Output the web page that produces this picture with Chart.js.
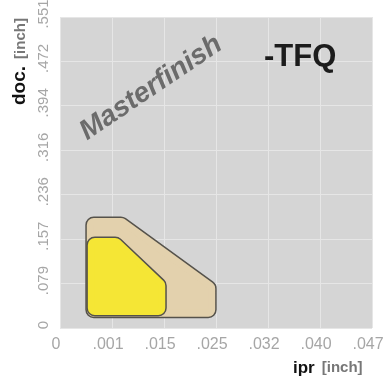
<!DOCTYPE html>
<html>
<head>
<meta charset="utf-8">
<script src="https://cdn.jsdelivr.net/npm/chart.js@4.4.0/dist/chart.umd.min.js"></script>
<style>
  html, body { margin: 0; padding: 0; background: #fff; }
  #wrap { width: 383px; height: 380px; }
</style>
</head>
<body>
<div id="wrap"><canvas id="chart" width="383" height="380"></canvas></div>
<script>
// tick labels as printed on the chart (one per grid step)
const xTickLabels = ['0', '.001', '.015', '.025', '.032', '.040', '.047'];
const yTickLabels = ['0', '.079', '.157', '.236', '.316', '.394', '.472', '.551'];

// outer (tan) range - corner points in grid steps, closed
const outerX = [0.65, 0.65, 1.17, 2.85, 2.85, 0.65];
const outerY = [0.41, 2.32, 2.32, 0.89, 0.41, 0.41];

// inner (yellow) range
const innerX = [0.67, 0.67, 1.06, 1.89, 1.89, 0.67];
const innerY = [0.45, 1.87, 1.87, 0.95, 0.45, 0.45];

const edgeColor = '#55524b';

function toPoints(xs, ys) {
  return xs.map((x, i) => ({ x: x, y: ys[i] }));
}

// thick round-joined stroke gives the rounded corners
function outline(xs, ys, color, width) {
  return {
    data: toPoints(xs, ys),
    borderColor: color,
    borderWidth: width,
    borderJoinStyle: 'round',
    borderCapStyle: 'round',
    pointRadius: 0,
    tension: 0,
    fill: false
  };
}

// filled body: open path (without closing point) filled down to its bottom
function body(xs, ys, color) {
  return {
    data: toPoints(xs.slice(0, -1), ys.slice(0, -1)),
    borderColor: color,
    backgroundColor: color,
    borderWidth: 0,
    pointRadius: 0,
    tension: 0,
    fill: { value: ys[0] }
  };
}

// plot background
const plotBg = {
  id: 'plotBg',
  beforeDraw(chart) {
    const { ctx, chartArea: a } = chart;
    ctx.save();
    ctx.fillStyle = '#d5d5d5';
    ctx.fillRect(a.left, a.top, a.right - a.left, a.bottom - a.top);
    ctx.restore();
  }
};

// tick labels, titles and notes
const texts = {
  id: 'texts',
  afterDraw(chart) {
    const ctx = chart.ctx;
    const xs = chart.scales.x, ys = chart.scales.y;
    ctx.save();
    ctx.fillStyle = '#a6a6a6';
    ctx.font = '16px "Liberation Sans", Arial, sans-serif';
    ctx.textAlign = 'center';
    ctx.textBaseline = 'alphabetic';
    xTickLabels.forEach((t, i) => {
      ctx.fillText(t, xs.getPixelForValue(i) - 4, 349);
    });
    ctx.font = '15px "Liberation Sans", Arial, sans-serif';
    yTickLabels.forEach((t, i) => {
      ctx.save();
      ctx.translate(48, ys.getPixelForValue(i) - 3);
      ctx.rotate(-Math.PI / 2);
      ctx.fillText(t, 0, 0);
      ctx.restore();
    });

    // y title
    ctx.save();
    ctx.translate(25, 105);
    ctx.rotate(-Math.PI / 2);
    ctx.textAlign = 'left';
    ctx.fillStyle = '#111';
    ctx.font = 'bold 19px "Liberation Sans", Arial, sans-serif';
    ctx.fillText('doc.', 0, 0);
    let w = ctx.measureText('doc.').width;
    ctx.fillStyle = '#777';
    ctx.font = 'bold 15px "Liberation Sans", Arial, sans-serif';
    ctx.fillText('[inch]', w + 7, 0);
    ctx.restore();

    // x title
    ctx.textAlign = 'left';
    ctx.fillStyle = '#111';
    ctx.font = 'bold 17px "Liberation Sans", Arial, sans-serif';
    ctx.fillText('ipr', 293, 373);
    w = ctx.measureText('ipr').width;
    ctx.fillStyle = '#777';
    ctx.font = 'bold 15px "Liberation Sans", Arial, sans-serif';
    ctx.fillText('[inch]', 293 + w + 7, 372);

    // grade name
    ctx.fillStyle = '#1c1c1c';
    ctx.font = 'bold 31px "Liberation Sans", Arial, sans-serif';
    ctx.fillText('-TFQ', 264, 66);

    // watermark
    ctx.save();
    ctx.translate(151, 88);
    ctx.rotate(-34 * Math.PI / 180);
    ctx.textAlign = 'center';
    ctx.textBaseline = 'middle';
    ctx.fillStyle = '#6b6b6b';
    ctx.font = 'italic bold 28px "Liberation Sans", Arial, sans-serif';
    ctx.fillText('Masterfinish', 0, 0);
    ctx.restore();

    ctx.restore();
  }
};

const gridOpts = { color: '#e6e6e6', lineWidth: 1, drawTicks: false };

new Chart(document.getElementById('chart'), {
  type: 'line',
  data: {
    datasets: [
      body(innerX, innerY, '#f5e635'),
      outline(innerX, innerY, '#f5e635', 14),
      outline(innerX, innerY, edgeColor, 17),
      body(outerX, outerY, '#e3d1ad'),
      outline(outerX, outerY, '#e3d1ad', 14),
      outline(outerX, outerY, edgeColor, 17)
    ]
  },
  options: {
    responsive: false,
    animation: false,
    layout: { padding: { left: 60, top: 17, right: 11, bottom: 52 } },
    plugins: { legend: { display: false }, tooltip: { enabled: false } },
    scales: {
      x: {
        type: 'linear', min: 0, max: 6,
        ticks: { display: false, stepSize: 1 },
        grid: gridOpts,
        border: { display: false }
      },
      y: {
        type: 'linear', min: 0, max: 7,
        ticks: { display: false, stepSize: 1 },
        grid: gridOpts,
        border: { display: false }
      }
    }
  },
  plugins: [plotBg, texts]
});
</script>
</body>
</html>
